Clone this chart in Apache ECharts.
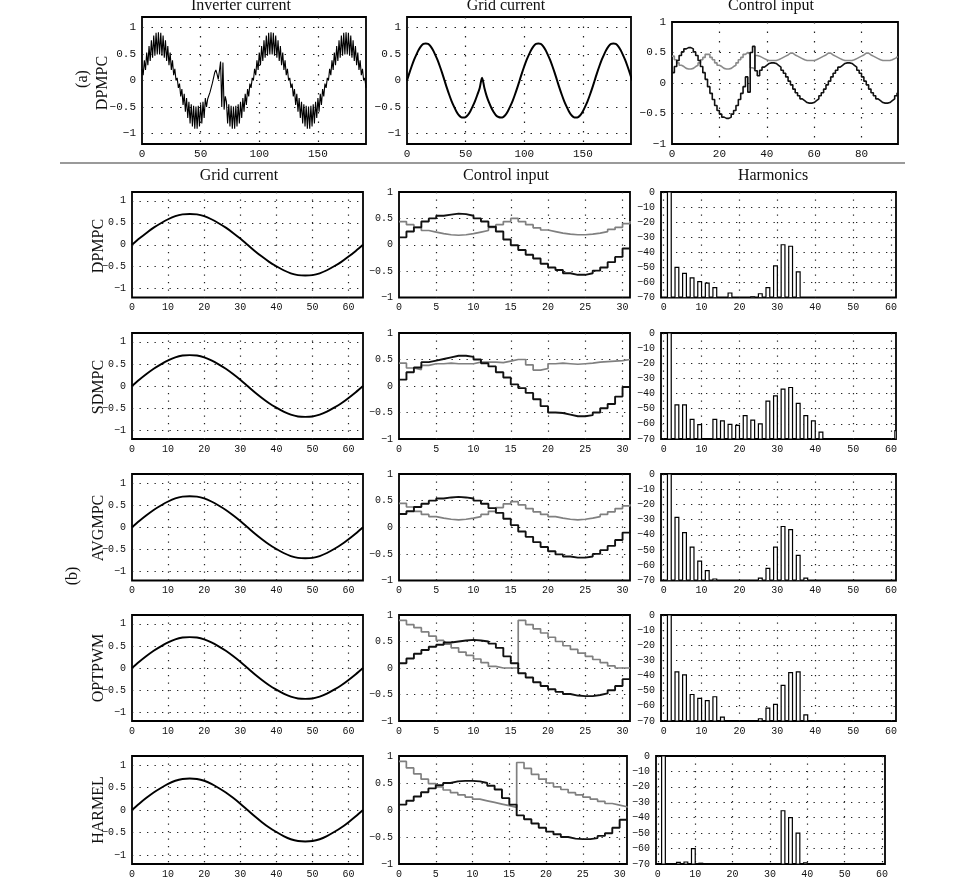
<!DOCTYPE html>
<html><head><meta charset="utf-8">
<script src="https://cdn.jsdelivr.net/npm/echarts@6/dist/echarts.min.js"></script>
<style>html,body{margin:0;padding:0;background:#fff}#c{width:960px;height:879px}</style>
</head><body><div id="c"></div>
<script>
// ---------- tick labels ----------
const xTicksTopCur = [0, 50, 100, 150];
const yTicksCur = [-1, -0.5, 0, 0.5, 1];
const xTicksTopCtrl = [0, 20, 40, 60, 80];
const yTicksCtrl = [-1, -0.5, 0, 0.5, 1];
const xTicksGC = [0, 10, 20, 30, 40, 50, 60];
const xTicksCtrl = [0, 5, 10, 15, 20, 25, 30];
const xTicksHarm = [0, 10, 20, 30, 40, 50, 60];
const yTicksHarm = [0, -10, -20, -30, -40, -50, -60, -70];

// ---------- text ----------
const topTitles = ['Inverter current', 'Grid current', 'Control input'];
const bottomTitles = ['Grid current', 'Control input', 'Harmonics'];
const rowLabels = ['DPMPC', 'SDMPC', 'AVGMPC', 'OPTPWM', 'HARMEL'];

// ---------- (a) top row data ----------
const inverterCurrent = [
 .22,.10,.38,.20,.53,.29,.65,.37,.76,.43,
 .85,.47,.90,.49,.91,.49,.90,.47,.85,.43,
 .76,.37,.65,.29,.53,.20,.38,.10,.22,.00,
 .05,-.14,-.06,-.30,-.16,-.46,-.25,-.59,-.33,-.71,
 -.40,-.81,-.45,-.87,-.48,-.91,-.49,-.91,-.48,-.87,
 -.45,-.81,-.40,-.71,-.33,-.50,-.35,-.38,-.22,-.22,
 -.05,.05,.15,.20,.12,.02,.18,.36,-.50,.34,
 -.55,-.30,-.40,-.81,-.45,-.87,-.48,-.91,-.49,-.91,
 -.48,-.87,-.45,-.81,-.40,-.71,-.33,-.59,-.25,-.46,
 -.16,-.30,-.06,-.14,.05,.00,.22,.10,.38,.20,
 .53,.29,.65,.37,.76,.43,.85,.47,.90,.49,
 .91,.49,.90,.47,.85,.43,.76,.37,.65,.29,
 .53,.20,.38,.10,.22,.00,.05,-.14,-.06,-.30,
 -.16,-.46,-.25,-.59,-.33,-.71,-.40,-.81,-.45,-.87,
 -.48,-.91,-.49,-.91,-.48,-.87,-.45,-.81,-.40,-.71,
 -.33,-.59,-.25,-.46,-.16,-.30,-.06,-.14,.05,.00,
 .22,.10,.38,.20,.53,.29,.65,.37,.76,.43,
 .85,.47,.90,.49,.91,.49,.90,.47,.85,.43,
 .76,.37,.65,.29,.53,.20,.38,.10,.22,.00,
 .05,-.14
];
// sampled every 2 steps (x = 0,2,...,192)
const gridCurrentTop = [
 0,.14,.27,.39,.49,.58,.65,.69,.70,.69,.65,.58,.49,.39,.27,.14,0,
 -.14,-.27,-.39,-.49,-.58,-.65,-.69,-.70,-.69,-.65,-.58,-.49,-.39,-.27,-.14,.05,
 -.14,-.30,-.42,-.52,-.60,-.66,-.69,-.70,-.69,-.65,-.58,-.49,-.39,-.27,-.14,0,
 .14,.27,.39,.49,.58,.65,.69,.70,.69,.65,.58,.49,.39,.27,.14,0,
 -.14,-.27,-.39,-.49,-.58,-.65,-.69,-.70,-.69,-.65,-.58,-.49,-.39,-.27,-.14,0,
 .14,.27,.39,.49,.58,.65,.69,.70,.69,.65,.58,.49,.39,.27,.14,0
];
const ctrlTopBlack = [
 .17,.27,.37,.45,.51,.56,.58,.58,.56,.51,.45,.37,.27,.17,.06,-.06,-.17,-.27,-.37,-.45,-.51,-.56,-.58,-.58,-.56,-.51,-.45,-.37,-.27,-.17,-.06,
 .10,-.15,.50,.60,.20,.12,
 .21,.26,.29,.32,.33,.33,.32,.29,.26,.21,.16,.10,.03,-.03,-.10,-.16,-.21,-.26,-.29,-.32,-.33,-.33,-.32,-.29,-.26,-.21,-.16,-.10,-.03,
 .03,.10,.16,.21,.26,.29,.32,.33,.33,.32,.29,.26,.21,.16,.10,.03,-.03,-.10,-.16,-.21,-.26,-.29,-.32,-.33,-.33,-.32,-.29,-.26,-.21,-.16
];
const ctrlTopGray = [
 .44,.38,.33,.29,.27,.24,.23,.23,.24,.27,.29,.33,.38,.42,.47,.47,.42,.38,.33,.29,.27,.24,.23,.23,.24,.27,.29,.33,.38,.42,.47,
 .50,.47,.25,.23,.45,.44,
 .42,.40,.38,.37,.37,.37,.37,.38,.40,.42,.44,.46,.49,.49,.46,.44,.42,.40,.38,.37,.37,.37,.37,.38,.40,.42,.44,.46,.49,
 .49,.46,.44,.42,.40,.38,.37,.37,.37,.37,.38,.40,.42,.44,.46,.49,.49,.46,.44,.42,.40,.38,.37,.37,.37,.37,.38,.40,.42,.44
];

// ---------- (b) rows ----------
const gridCurrentBottom = [0,.14,.27,.39,.49,.58,.65,.69,.70,.69,.65,.58,.49,.39,.27,.14,0,-.14,-.27,-.39,-.49,-.58,-.65,-.69,-.70,-.69,-.65,-.58,-.49,-.39,-.27,-.14,0];

const ctrlBlackDPMPC = [.14,.25,.33,.44,.50,.55,.57,.59,.58,.55,.50,.44,.34,.25,.10,-.01,-.10,-.19,-.26,-.36,-.43,-.48,-.54,-.57,-.57,-.54,-.49,-.43,-.33,-.23,-.07,-.07];
const ctrlGrayDPMPC  = [.44,.38,.33,.27,.24,.21,.19,.18,.19,.21,.24,.27,.33,.38,.44,.50,.44,.38,.32,.28,.25,.22,.20,.19,.19,.20,.22,.25,.29,.33,.40,.45];
const ctrlBlackSDMPC = [.12,.26,.35,.45,.48,.51,.54,.57,.57,.55,.50,.43,.37,.26,.16,.03,-.04,-.13,-.25,-.38,-.50,-.51,-.54,-.57,-.57,-.55,-.50,-.42,-.34,-.20,-.02,-.02];
const ctrlGraySDMPC  = [.43,.34,.31,.39,.42,.42,.43,.42,.42,.42,.45,.45,.45,.44,.47,.50,.50,.40,.30,.33,.42,.43,.42,.41,.42,.43,.45,.46,.47,.48,.50,.50];
const ctrlBlackAVGMPC = [.25,.30,.38,.44,.50,.54,.56,.57,.56,.54,.50,.44,.36,.27,.16,.04,-.08,-.18,-.28,-.37,-.45,-.51,-.55,-.57,-.57,-.55,-.50,-.43,-.35,-.24,-.10,-.05];
const ctrlGrayAVGMPC  = [.45,.38,.30,.24,.20,.17,.15,.14,.15,.17,.20,.24,.30,.37,.44,.48,.42,.35,.29,.24,.20,.17,.15,.14,.15,.17,.20,.24,.29,.35,.40,.43];
const ctrlBlackOPTPWM = [.09,.18,.27,.34,.40,.44,.48,.50,.52,.53,.52,.50,.46,.38,.22,.09,-.10,-.18,-.27,-.34,-.40,-.45,-.49,-.52,-.53,-.53,-.51,-.48,-.42,-.34,-.21,-.21];
const ctrlGrayOPTPWM  = [.90,.82,.76,.68,.60,.52,.45,.38,.30,.24,.17,.10,.03,0,0,0,.90,.82,.74,.66,.58,.50,.42,.35,.28,.22,.16,.10,.04,0,0,0];
const ctrlBlackHARMEL = [.10,.17,.25,.33,.40,.46,.50,.53,.54,.54,.53,.50,.45,.38,.22,.10,-.10,-.17,-.25,-.33,-.40,-.45,-.50,-.53,-.54,-.54,-.52,-.48,-.43,-.33,-.18,-.18];
const ctrlGrayHARMEL  = [.90,.78,.67,.57,.49,.43,.37,.32,.28,.24,.20,.17,.14,.11,.08,.05,.88,.77,.66,.57,.50,.43,.38,.32,.28,.24,.20,.16,.12,.09,.06,.04];

// harmonics: [harmonic order, level dB]
const harmDPMPC = [[1,0],[3,-50],[5,-54],[7,-57],[9,-59.5],[11,-60.5],[13,-63.5],[17,-67],[23,-69.5],[25,-67.5],[27,-63.5],[29,-49],[31,-35],[33,-36],[35,-53]];
const harmSDMPC = [[1,0],[3,-47.5],[5,-47.5],[7,-57],[9,-60.5],[13,-57],[15,-58],[17,-60.3],[19,-61],[21,-54.5],[23,-57.5],[25,-60],[27,-45],[29,-41.5],[31,-37],[33,-36],[35,-46.5],[37,-54.5],[39,-58],[41,-65.5],[61,-64.5]];
const harmAVGMPC = [[1,0],[3,-28.5],[5,-38.5],[7,-48],[9,-57.3],[11,-63.5],[13,-69],[25,-68.5],[27,-62],[29,-48],[31,-34.5],[33,-36.5],[35,-53.5],[37,-68.5]];
const harmOPTPWM = [[1,0],[3,-37.5],[5,-39.5],[7,-52.5],[9,-55],[11,-56.5],[13,-54],[15,-67.5],[25,-68.5],[27,-61.5],[29,-59],[31,-46.5],[33,-38],[35,-37.5],[37,-66]];
const harmHARMEL = [[1,0],[5,-69],[7,-68.7],[9,-60],[11,-69.5],[33,-35.5],[35,-40],[37,-50],[39,-69.2]];

// ---------- build ----------
const MONO = '"Liberation Mono","DejaVu Sans Mono",monospace';
const SERIF = '"Liberation Serif","DejaVu Serif",serif';
function fmt(v){ const r = Math.round(v*100)/100; const s = String(Math.abs(r)); return r < 0 ? '\u2212' + s : s; }
function labelFmt(ticks){ return v => ticks.some(t => Math.abs(t - v) < 1e-6) ? fmt(v) : ''; }
function pairs(arr, step){ return arr.map((v, i) => [i*step, v]); }

const option = {animation:false, backgroundColor:'#fff', grid:[], xAxis:[], yAxis:[], series:[], graphic:[]};
let gi = 0;
function axis(i, a, fs, dash, dir){
  const o = {type:'value', gridIndex:i, min:a.min, max:a.max, splitNumber:a.split || 5,
    axisLine:{show:false}, axisTick:{show:false},
    axisLabel:{fontFamily:MONO, fontSize:fs, color:'#111', margin: dir === 'x' ? 5 : 6, formatter: labelFmt(a.ticks)},
    splitLine:{show:true, showMinLine:false, showMaxLine:false, lineStyle:{color:'#222', width:1.2, type:dash}}};
  if (a.interval) o.interval = a.interval;
  return o;
}
function addPanel(rect, xa, ya, fs, dash, list){
  option.grid.push({left:rect[0], top:rect[1], width:rect[2], height:rect[3], show:true, borderColor:'#000', borderWidth:1.8, backgroundColor:'#fff'});
  option.xAxis.push(axis(gi, xa, fs, dash, 'x'));
  option.yAxis.push(axis(gi, ya, fs, dash, 'y'));
  list.forEach(s => option.series.push(Object.assign({xAxisIndex:gi, yAxisIndex:gi}, s)));
  gi++;
}
function lineS(data, color, width, extra){
  return Object.assign({type:'line', data, showSymbol:false, symbol:'none', silent:true, clip:true,
    lineStyle:{color, width}, itemStyle:{color}}, extra || {});
}
function harmS(data){
  return {type:'custom', data, clip:true, silent:true, encode:{x:0, y:1},
    renderItem:(p, api) => {
      const n = api.value(0), v = api.value(1);
      const a = api.coord([n, -70]), b = api.coord([n + 1, v]);
      return {type:'rect', shape:{x:a[0], y:b[1], width:b[0]-a[0], height:a[1]-b[1]},
        style:{fill:'#fff', stroke:'#000', lineWidth:1.2}};
    }};
}

const dashTop = [1.5, 8], dashBot = [1.3, 6.2];
// top row (a)
addPanel([142, 17, 224, 127], {min:0, max:191, interval:50, ticks:xTicksTopCur}, {min:-1.2, max:1.2, split:5, ticks:yTicksCur}, 11, dashTop,
  [lineS(pairs(inverterCurrent, 1), '#000', 1.1)]);
addPanel([407, 17, 224, 127], {min:0, max:191, interval:50, ticks:xTicksTopCur}, {min:-1.2, max:1.2, split:5, ticks:yTicksCur}, 11, dashTop,
  [lineS(pairs(gridCurrentTop, 2), '#000', 2, {smooth:0.3})]);
addPanel([672, 22, 226, 122], {min:0, max:95.4, interval:20, ticks:xTicksTopCtrl}, {min:-1, max:1, interval:0.5, ticks:yTicksCtrl}, 11, dashTop,
  [lineS(pairs(ctrlTopGray, 1), '#8a8a8a', 1.6, {step:'end'}), lineS(pairs(ctrlTopBlack, 1), '#111', 1.6, {step:'end'})]);

// bottom rows (b)
const rowTop = [192, 333, 474, 615, 756];
const rowH = [105.5, 106, 106.5, 106, 108];
const ctrlBlack = [ctrlBlackDPMPC, ctrlBlackSDMPC, ctrlBlackAVGMPC, ctrlBlackOPTPWM, ctrlBlackHARMEL];
const ctrlGray = [ctrlGrayDPMPC, ctrlGraySDMPC, ctrlGrayAVGMPC, ctrlGrayOPTPWM, ctrlGrayHARMEL];
const harms = [harmDPMPC, harmSDMPC, harmAVGMPC, harmOPTPWM, harmHARMEL];
for (let r = 0; r < 5; r++){
  const t = rowTop[r], h = rowH[r];
  addPanel([132, t, 231, h], {min:0, max:64, interval:10, ticks:xTicksGC}, {min:-1.2, max:1.2, split:5, ticks:yTicksCur}, 10, dashBot,
    [lineS(pairs(gridCurrentBottom, 2), '#000', 1.9, {smooth:0.3})]);
  addPanel([399, t, r === 4 ? 228 : 231, h], {min:0, max:31, interval:5, ticks:xTicksCtrl}, {min:-1, max:1, interval:0.5, ticks:yTicksCtrl}, 10, dashBot,
    [lineS(pairs(ctrlGray[r], 1), '#808080', 1.7, {step:'end'}), lineS(pairs(ctrlBlack[r], 1), '#111', 1.9, {step:'end'})]);
  const hx = r === 4 ? {min:-0.5, max:60.8, split:6, ticks:xTicksHarm} : {min:-0.7, max:61.3, split:6, ticks:xTicksHarm};
  addPanel([r === 4 ? 656 : 661, t, r === 4 ? 229 : 235, h], hx, {min:-70, max:0, interval:10, ticks:yTicksHarm}, 10, dashBot,
    [harmS(harms[r])]);
}

// texts
function txt(s, x, y, size, rot){
  return {type:'text', x, y, rotation: rot || 0, silent:true,
    style:{text:s, font: size + 'px ' + SERIF, fill:'#111', align:'center', verticalAlign:'middle', textAlign:'center', textVerticalAlign:'middle'}};
}
const topTitleX = [241, 506, 771], botTitleX = [239, 506, 773];
topTitles.forEach((s, i) => option.graphic.push(txt(s, topTitleX[i], 6, 16)));
bottomTitles.forEach((s, i) => option.graphic.push(txt(s, botTitleX[i], 175.5, 16)));
option.graphic.push(txt(rowLabels[0], 102.5, 83, 16, Math.PI/2));
option.graphic.push(txt('(a)', 83, 79, 16, Math.PI/2));
const rowLabelY = [246, 387, 528, 668, 810];
rowLabels.forEach((s, i) => option.graphic.push(txt(s, 99, rowLabelY[i], 16, Math.PI/2)));
option.graphic.push(txt('(b)', 73, 576, 16, Math.PI/2));
option.graphic.push({type:'line', silent:true, shape:{x1:60, y1:163, x2:905, y2:163}, style:{stroke:'#9a9a9a', lineWidth:2}});

const chart = echarts.init(document.getElementById('c'), null, {renderer:'canvas'});
chart.setOption(option);
</script></body></html>
